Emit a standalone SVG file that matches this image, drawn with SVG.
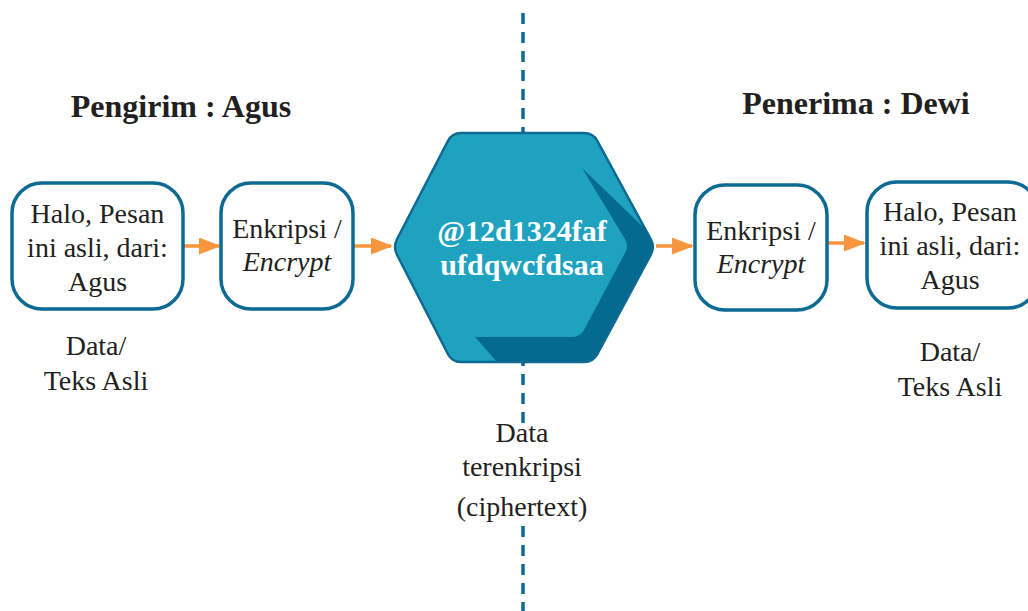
<svg xmlns="http://www.w3.org/2000/svg" width="1028" height="611" viewBox="0 0 1028 611">
  <style>
    .box { fill: #ffffff; stroke: #0d6a93; stroke-width: 3.5; }
    .t { font-family: "Liberation Serif", "Times New Roman", serif; font-size: 28px; fill: #231f20; text-anchor: middle; }
    .title { font-family: "Liberation Serif", "Times New Roman", serif; font-size: 32px; font-weight: bold; fill: #231f20; text-anchor: middle; }
    .hext { font-family: "Liberation Serif", "Times New Roman", serif; font-size: 30px; font-weight: bold; fill: #ffffff; text-anchor: middle; }
    .arrow { stroke: #f7963f; stroke-width: 3.5; fill: none; marker-end: url(#ah); }
    .divider { stroke: #0d6a93; stroke-width: 3.5; stroke-dasharray: 11 8; fill: none; }
  </style>
  <defs>
    <marker id="ah" markerUnits="userSpaceOnUse" markerWidth="22" markerHeight="17" refX="20" refY="8.5" orient="auto">
      <path d="M0,0 L22,8.5 L0,17 Z" fill="#f7963f"/>
    </marker>
    <clipPath id="hexclip">
      <path d="M397.1,239 L447.9,141 Q452,133 461,133 L584,133 Q593,133 597.3,140.9 L650.7,239.1 Q655,247 650.7,254.9 L597.3,354.1 Q593,362 584,362 L461,362 Q452,362 447.9,354 L397.1,255 Q393,247 397.1,239 Z"/>
    </clipPath>
  </defs>

  <rect width="1028" height="611" fill="#ffffff"/>

  <g id="divider">
    <line class="divider" x1="523" y1="13" x2="523" y2="611"/>
  </g>

  <g id="titles">
    <text class="title" x="181" y="117">Pengirim : Agus</text>
    <text class="title" x="856" y="114">Penerima : Dewi</text>
  </g>

  <g id="connectors">
    <line class="arrow" x1="184" y1="246" x2="219" y2="246"/>
    <line class="arrow" x1="354" y1="246" x2="391" y2="246"/>
    <line class="arrow" x1="656" y1="246" x2="692" y2="246"/>
    <line class="arrow" x1="828" y1="243" x2="864" y2="243"/>
  </g>

  <g id="plaintext-sender">
    <rect class="box" x="12" y="183" width="171" height="126" rx="30"/>
    <text class="t" x="97.5" y="223">Halo, Pesan</text>
    <text class="t" x="97.5" y="257">ini asli, dari:</text>
    <text class="t" x="97.5" y="291">Agus</text>
    <text class="t" x="96" y="355">Data/</text>
    <text class="t" x="96" y="390">Teks Asli</text>
  </g>

  <g id="encrypt-sender">
    <rect class="box" x="221" y="183" width="132" height="126" rx="30"/>
    <text class="t" x="287" y="238">Enkripsi /</text>
    <text class="t" x="287" y="271" font-style="italic">Encrypt</text>
  </g>

  <g id="ciphertext">
    <path d="M397.1,239 L447.9,141 Q452,133 461,133 L584,133 Q593,133 597.3,140.9 L650.7,239.1 Q655,247 650.7,254.9 L597.3,354.1 Q593,362 584,362 L461,362 Q452,362 447.9,354 L397.1,255 Q393,247 397.1,239 Z" fill="#1ea2c0"/>
    <path clip-path="url(#hexclip)" d="M582,168 L700,282 L700,380 L513,380 L475,337 L572,337 Q580,337 584,330 L625,253 Q629,246 625,239 Z" fill="#06698f"/>
    <path d="M397.1,239 L447.9,141 Q452,133 461,133 L584,133 Q593,133 597.3,140.9 L650.7,239.1 Q655,247 650.7,254.9 L597.3,354.1 Q593,362 584,362 L461,362 Q452,362 447.9,354 L397.1,255 Q393,247 397.1,239 Z" fill="none" stroke="#0d6a93" stroke-width="2.5"/>
    <text class="hext" x="522" y="241">@12d1324faf</text>
    <text class="hext" x="522" y="275">ufdqwcfdsaa</text>
    <rect x="450" y="423" width="146" height="95" fill="#ffffff"/>
    <text class="t" x="522" y="442">Data</text>
    <text class="t" x="522" y="476">terenkripsi</text>
    <text class="t" x="522" y="516">(ciphertext)</text>
  </g>

  <g id="encrypt-receiver">
    <rect class="box" x="695" y="185" width="132" height="125" rx="30"/>
    <text class="t" x="761" y="240">Enkripsi /</text>
    <text class="t" x="761" y="273" font-style="italic">Encrypt</text>
  </g>

  <g id="plaintext-receiver">
    <rect class="box" x="867" y="182" width="171" height="126" rx="30"/>
    <text class="t" x="950" y="221">Halo, Pesan</text>
    <text class="t" x="950" y="255">ini asli, dari:</text>
    <text class="t" x="950" y="289">Agus</text>
    <text class="t" x="950" y="361">Data/</text>
    <text class="t" x="950" y="396">Teks Asli</text>
  </g>
</svg>
